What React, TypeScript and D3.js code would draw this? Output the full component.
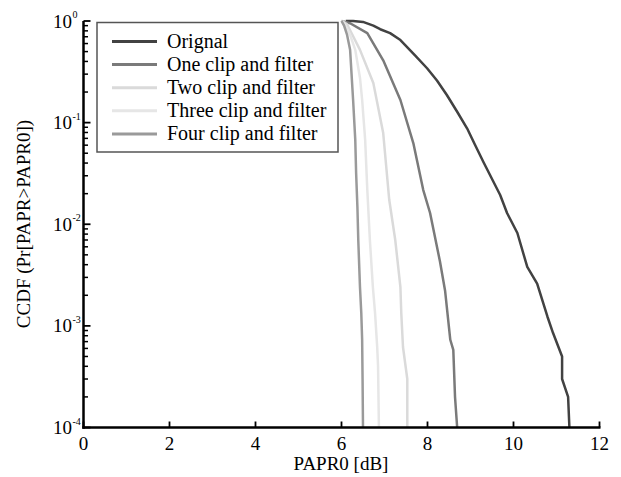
import React from "react";
import * as d3 from "d3";

const seriesNames = [
  "Orignal",
  "One clip and filter",
  "Two clip and filter",
  "Three clip and filter",
  "Four clip and filter",
];
const seriesColors = ["#424242", "#7a7a7a", "#dadada", "#e6e6e6", "#9a9a9a"];

const origX = [6.1, 6.27, 6.5, 6.74, 6.9, 7.13, 7.37, 7.71, 7.99, 8.22, 8.45, 8.69, 8.92, 9.11, 9.3, 9.69, 9.85, 10.09, 10.32, 10.55, 10.79, 10.92, 11.13, 11.13, 11.27, 11.3];
const origY = [1, 1, 0.98, 0.9, 0.83, 0.76, 0.65, 0.46, 0.343, 0.26, 0.187, 0.128, 0.088, 0.06, 0.041, 0.0194, 0.0129, 0.0082, 0.0038, 0.0026, 0.00123, 0.00085, 0.0005, 0.0003, 0.0002, 0.0001];

const oneX = [6.0, 6.2, 6.6, 6.97, 7.37, 7.67, 7.9, 8.06, 8.29, 8.41, 8.53, 8.6, 8.64, 8.69];
const oneY = [1, 0.95, 0.76, 0.41, 0.167, 0.063, 0.0218, 0.0129, 0.0043, 0.0022, 0.00073, 0.00058, 0.0002, 0.0001];

const twoX = [6.02, 6.13, 6.43, 6.74, 6.97, 7.11, 7.25, 7.37, 7.39, 7.43, 7.53, 7.53];
const twoY = [1, 0.93, 0.52, 0.245, 0.079, 0.0174, 0.007, 0.0024, 0.00134, 0.00062, 0.0003, 0.0001];

const threeX = [6.0, 6.08, 6.2, 6.32, 6.43, 6.48, 6.55, 6.6, 6.66, 6.73, 6.78, 6.83, 6.85, 6.87];
const threeY = [1, 0.92, 0.73, 0.52, 0.275, 0.167, 0.068, 0.0218, 0.007, 0.0024, 0.00134, 0.00062, 0.0004, 0.0001];

const fourX = [6.0, 6.06, 6.13, 6.2, 6.27, 6.32, 6.34, 6.37, 6.39, 6.43, 6.46, 6.48, 6.49, 6.5];
const fourY = [1, 0.9, 0.73, 0.52, 0.167, 0.068, 0.032, 0.0148, 0.007, 0.0024, 0.00134, 0.00073, 0.0003, 0.0001];

const xTicks = [0, 2, 4, 6, 8, 10, 12];
const yExps = [0, -1, -2, -3, -4];

const seriesX = [origX, oneX, twoX, threeX, fourX];
const seriesY = [origY, oneY, twoY, threeY, fourY];

const W = 621;
const H = 477;
const FONT = "Liberation Serif, DejaVu Serif, serif";

export default function App() {
  const x = d3.scaleLinear().domain([0, 12]).range([83.5, 599.5]);
  const y = d3.scaleLog().domain([1e-4, 1]).range([427.5, 21]);

  const line = d3
    .line<[number, number]>()
    .x((d) => x(d[0]))
    .y((d) => y(d[1]));

  const minor: number[] = [];
  for (let e = -4; e < 0; e++) {
    for (let m = 2; m <= 9; m++) minor.push(m * Math.pow(10, e));
  }

  const x0 = x(0);
  const yb = y(1e-4);
  const ts = { fontFamily: FONT };

  return (
    <svg
      width={W}
      height={H}
      style={{ position: "absolute", left: 0, top: 0, background: "#fff", fontFamily: FONT }}
    >
      <defs>
        <clipPath id="plot">
          <rect x={x0} y={y(1) - 2} width={x(12) - x0} height={yb - y(1) + 2} />
        </clipPath>
      </defs>
      <g clipPath="url(#plot)">
        {seriesX.map((xs, i) => {
          const pts = xs.map((v, j) => [v, seriesY[i][j]] as [number, number]);
          return (
            <path
              key={i}
              d={line(pts) || ""}
              fill="none"
              stroke={seriesColors[i]}
              strokeWidth={2.5}
              strokeLinejoin="round"
            />
          );
        })}
      </g>
      {/* axes */}
      <line x1={x0} x2={x0} y1={y(1)} y2={yb + 1.2} stroke="#000" strokeWidth={2.5} />
      <line x1={x0 - 1.2} x2={x(12) + 1} y1={yb} y2={yb} stroke="#000" strokeWidth={2.5} />
      {xTicks.map((t) => (
        <g key={t}>
          <line x1={x(t)} x2={x(t)} y1={yb} y2={yb - 6} stroke="#000" strokeWidth={1.8} />
          <text x={x(t)} y={450} textAnchor="middle" fontSize={19} style={ts}>
            {t}
          </text>
        </g>
      ))}
      {yExps.map((e) => (
        <g key={e}>
          <line x1={x0} x2={x0 + 7} y1={y(Math.pow(10, e))} y2={y(Math.pow(10, e))} stroke="#000" strokeWidth={1.8} />
          <text x={72} y={y(Math.pow(10, e)) + 6.5} textAnchor="end" fontSize={19} style={ts}>
            10
          </text>
          <text x={72.5} y={y(Math.pow(10, e)) - 3} textAnchor="start" fontSize={10} style={ts}>
            {e === 0 ? "0" : "-" + Math.abs(e)}
          </text>
        </g>
      ))}
      {minor.map((m, i) => (
        <line key={i} x1={x0} x2={x0 + 4.5} y1={y(m)} y2={y(m)} stroke="#000" strokeWidth={1.5} />
      ))}
      <text x={341} y={470} textAnchor="middle" fontSize={19} style={ts}>
        PAPR0 [dB]
      </text>
      <text
        transform={`translate(30,${224}) rotate(-90)`}
        textAnchor="middle"
        fontSize={19}
        style={ts}
      >
        CCDF (Pr[PAPR&gt;PAPR0])
      </text>
      {/* legend */}
      <rect x={97} y={22.5} width={241} height={129.5} fill="#fff" stroke="#555" strokeWidth={1.5} />
      {seriesNames.map((n, i) => (
        <g key={n}>
          <line x1={112} x2={157} y1={41.5 + i * 23.1} y2={41.5 + i * 23.1} stroke={seriesColors[i]} strokeWidth={3} />
          <text x={167} y={41.5 + i * 23.1 + 6.5} fontSize={20} style={ts}>
            {n}
          </text>
        </g>
      ))}
    </svg>
  );
}
